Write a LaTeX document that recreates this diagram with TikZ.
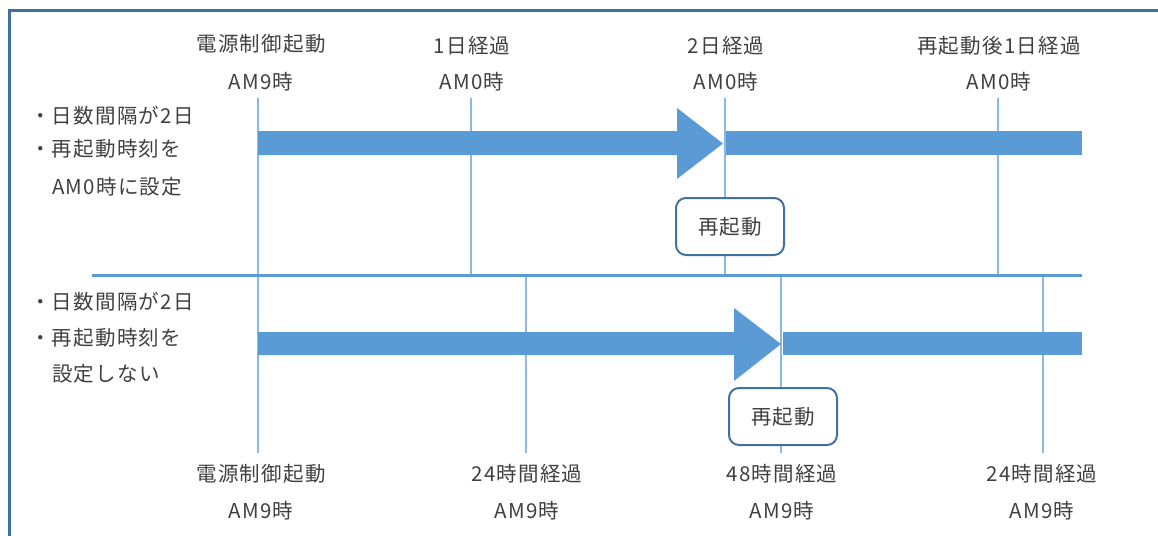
\documentclass[tikz,border=0pt]{standalone}
\usepackage{fontspec}
\setmainfont{Noto Sans CJK JP}[LetterSpace=6]
\definecolor{framec}{RGB}{65,113,156}
\definecolor{barc}{RGB}{91,155,213}
\definecolor{tickc}{RGB}{140,184,228}
\definecolor{txtc}{RGB}{64,64,64}
\begin{document}
\begin{tikzpicture}[x=1pt,y=-1pt,
  lbl/.style={text=txtc, font=\fontsize{20.5}{24}\selectfont, inner sep=0pt},
  lft/.style={lbl, anchor=west},
  tickline/.style={draw=tickc, line width=1.6pt},
  barshape/.style={fill=barc, draw=none},
  rbox/.style={lbl, draw=framec, line width=2pt, fill=white, rounded corners=10pt, minimum width=108pt, minimum height=57pt},
  divider/.style={draw=barc, line width=3pt},
  framel/.style={draw=framec, line width=3pt}]
\useasboundingbox (0,0) rectangle (1158,535);
% frame
\coordinate (fTL) at (9.5,11);
\coordinate (fTR) at (1160,11);
\coordinate (fBL) at (9.5,537);
\draw[framel] (fBL) -- (fTL) -- (fTR);
% tick line ends
\coordinate (a0) at (258,98);  \coordinate (a0b) at (258,453);
\coordinate (a1) at (471,98);  \coordinate (a1b) at (471,275);
\coordinate (a2) at (725,98);  \coordinate (a2b) at (725,275);
\coordinate (a3) at (998,98);  \coordinate (a3b) at (998,275);
\coordinate (b1) at (526,275); \coordinate (b1b) at (526,453);
\coordinate (b2) at (781,275); \coordinate (b2b) at (781,453);
\coordinate (b3) at (1043,275);\coordinate (b3b) at (1043,453);
\draw[tickline] (a0) -- (a0b);
\draw[tickline] (a1) -- (a1b);
\draw[tickline] (a2) -- (a2b);
\draw[tickline] (a3) -- (a3b);
\draw[tickline] (b1) -- (b1b);
\draw[tickline] (b2) -- (b2b);
\draw[tickline] (b3) -- (b3b);
% divider
\coordinate (dL) at (92,275.5);
\coordinate (dR) at (1082,275.5);
\draw[divider] (dL) -- (dR);
% upper arrow and bar
\fill[barshape] (258,131) -- (677,131) -- (677,108) -- (723,143.5) -- (677,179) -- (677,155) -- (258,155) -- cycle;
\fill[barshape] (726,131) rectangle (1082,155);
% lower arrow and bar
\fill[barshape] (258,332) -- (734,332) -- (734,308) -- (781,344) -- (734,381) -- (734,355) -- (258,355) -- cycle;
\fill[barshape] (783,332) rectangle (1082,355);
% restart boxes
\node[rbox] (r1) at (730,226.5) {再起動};
\node[rbox] (r2) at (783,416.5) {再起動};
% top labels
\node[lbl] (t0a) at (261,44) {電源制御起動};
\node[lbl] (t0b) at (261,82) {AM9時};
\node[lbl] (t1a) at (472,46) {1日経過};
\node[lbl] (t1b) at (472,82) {AM0時};
\node[lbl] (t2a) at (726,46) {2日経過};
\node[lbl] (t2b) at (726,82) {AM0時};
\node[lbl] (t3a) at (999,46) {再起動後1日経過};
\node[lbl] (t3b) at (999,82) {AM0時};
% bottom labels
\node[lbl] (u0a) at (261,474) {電源制御起動};
\node[lbl] (u0b) at (261,511) {AM9時};
\node[lbl] (u1a) at (527,474) {24時間経過};
\node[lbl] (u1b) at (527,511) {AM9時};
\node[lbl] (u2a) at (782,474) {48時間経過};
\node[lbl] (u2b) at (782,511) {AM9時};
\node[lbl] (u3a) at (1042,474) {24時間経過};
\node[lbl] (u3b) at (1042,511) {AM9時};
% left notes
\node[lft] (n1) at (30,116) {・日数間隔が2日};
\node[lft] (n2) at (30,149) {・再起動時刻を};
\node[lft] (n3) at (52,187) {AM0時に設定};
\node[lft] (n4) at (30,302) {・日数間隔が2日};
\node[lft] (n5) at (30,338) {・再起動時刻を};
\node[lft] (n6) at (52,374) {設定しない};
\end{tikzpicture}
\end{document}
